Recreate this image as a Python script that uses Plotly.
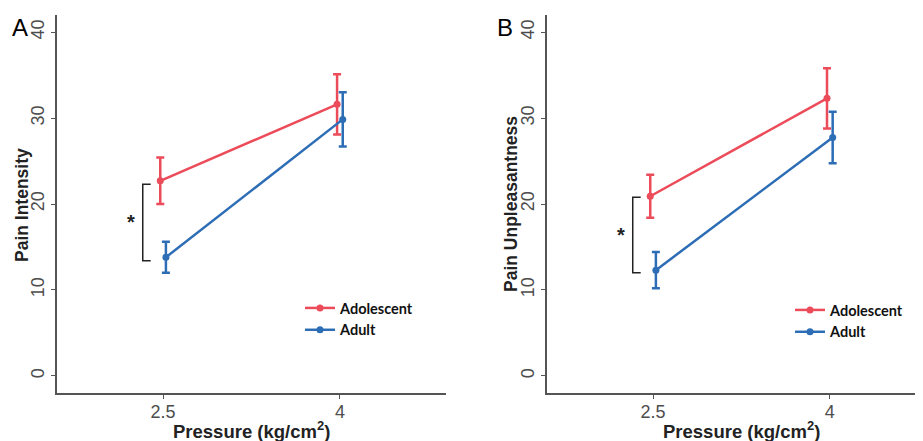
import plotly.graph_objects as go

# ---- data ----
pressures = ["2.5", "4"]
groups = ["Adolescent", "Adult"]

intensity_mean = {"Adolescent": [22.7, 31.6], "Adult": [13.8, 29.85]}
intensity_err = {"Adolescent": [2.7, 3.5], "Adult": [1.8, 3.15]}
unpleasant_mean = {"Adolescent": [20.9, 32.3], "Adult": [12.3, 27.75]}
unpleasant_err = {"Adolescent": [2.5, 3.5], "Adult": [2.1, 3.0]}

bracket_A = [13.4, 22.3]
bracket_B = [12.0, 20.8]
y_ticks = [0, 10, 20, 30, 40]

x_title = "Pressure (kg/cm<sup>2</sup>)"
y_title_A = "Pain Intensity"
y_title_B = "Pain Unpleasantness"

colors = {"Adolescent": "#EC4B5A", "Adult": "#2D6DB5"}
dodge = {"Adolescent": -0.016, "Adult": 0.016}
xpos = list(range(1, len(pressures) + 1))

# page body has an 8px default margin: work in screen pixels and offset
OFF = 8
W, H = 923 - OFF, 441 - OFF

def fx(px):
    return (px - OFF) / W

def fy(py):
    return 1 - (py - OFF) / H

fig = go.Figure()

panels = [
    ("x", "y", "legend", intensity_mean, intensity_err),
    ("x2", "y2", "legend2", unpleasant_mean, unpleasant_err),
]
for xa, ya, lg, means, errs in panels:
    for g in groups:
        fig.add_trace(go.Scatter(
            x=[p + dodge[g] for p in xpos], y=means[g],
            mode="lines+markers", name=g,
            line=dict(color=colors[g], width=2.5),
            marker=dict(color=colors[g], size=7),
            error_y=dict(type="data", array=errs[g], color=colors[g],
                         thickness=2.5, width=4),
            xaxis=xa, yaxis=ya, legend=lg,
        ))

# significance brackets
for xref, yref, br in [("x", "y", bracket_A), ("x2", "y2", bracket_B)]:
    lo, hi = br
    fig.add_shape(type="path",
                  path=f"M 0.93,{hi} L 0.885,{hi} L 0.885,{lo} L 0.93,{lo}",
                  xref=xref, yref=yref,
                  line=dict(color="#222", width=1.5))
    fig.add_annotation(x=0.82, y=(lo + hi) / 2, xref=xref, yref=yref,
                       text="<b>*</b>", showarrow=False,
                       font=dict(size=20, color="#222", family="Liberation Sans"))

def px_ann(x, y, text, size, angle=0, bold=False, color="#222"):
    fig.add_annotation(x=fx(x), y=fy(y), xref="paper", yref="paper",
                       text=f"<b>{text}</b>" if bold else text,
                       showarrow=False, textangle=angle,
                       xanchor="center", yanchor="middle",
                       font=dict(size=size, color=color, family="Liberation Sans"))

# panel letters
px_ann(20, 27, "A", 24, color="black")
px_ann(505, 27, "B", 24, color="black")
# axis titles
px_ann(251.5, 430, x_title, 18.5, bold=True)
px_ann(741.5, 430, x_title, 18.5, bold=True)
px_ann(22, 205, y_title_A, 17.5, angle=-90, bold=True)
px_ann(511, 204, y_title_B, 17.5, angle=-90, bold=True)

tickfont = dict(size=18, color="#4d4d4d", family="Liberation Sans")
common_x = dict(tickvals=xpos, ticktext=pressures, showgrid=False, zeroline=False,
                showline=True, linecolor="#555", linewidth=1.5, automargin=False,
                ticks="outside", ticklen=4, tickcolor="#555", tickwidth=1.2,
                ticklabelstandoff=-2, tickfont=tickfont)
common_y = dict(range=[-2, 42], tickvals=y_ticks, showgrid=False, zeroline=False,
                showline=True, linecolor="#555", linewidth=1.5, automargin=False,
                ticks="outside", ticklen=4, tickcolor="#555", tickwidth=1.2,
                tickangle=-90, tickfont=tickfont)

legfont = dict(size=14.5, color="#111", family="Lato", weight="bold")

fig.update_layout(
    width=W, height=H,
    margin=dict(l=0, r=0, t=0, b=0, autoexpand=False),
    paper_bgcolor="white", plot_bgcolor="white",
    xaxis=dict(domain=[fx(57), fx(446)], range=[0.4, 2.6], anchor="y", **common_x),
    yaxis=dict(domain=[fy(393), fy(15)], anchor="x", **common_y),
    xaxis2=dict(domain=[fx(547), 1.0], range=[0.4, 2.527], anchor="y2", **common_x),
    yaxis2=dict(domain=[fy(393), fy(15)], anchor="x2", **common_y),
    legend=dict(x=fx(300), y=fy(292), xanchor="left", yanchor="top",
                font=legfont, bgcolor="rgba(0,0,0,0)", itemwidth=30,
                tracegroupgap=0),
    legend2=dict(x=fx(790), y=fy(294), xanchor="left", yanchor="top",
                 font=legfont, bgcolor="rgba(0,0,0,0)", itemwidth=30,
                 tracegroupgap=0),
    showlegend=True,
)

fig.write_html("out.html")
